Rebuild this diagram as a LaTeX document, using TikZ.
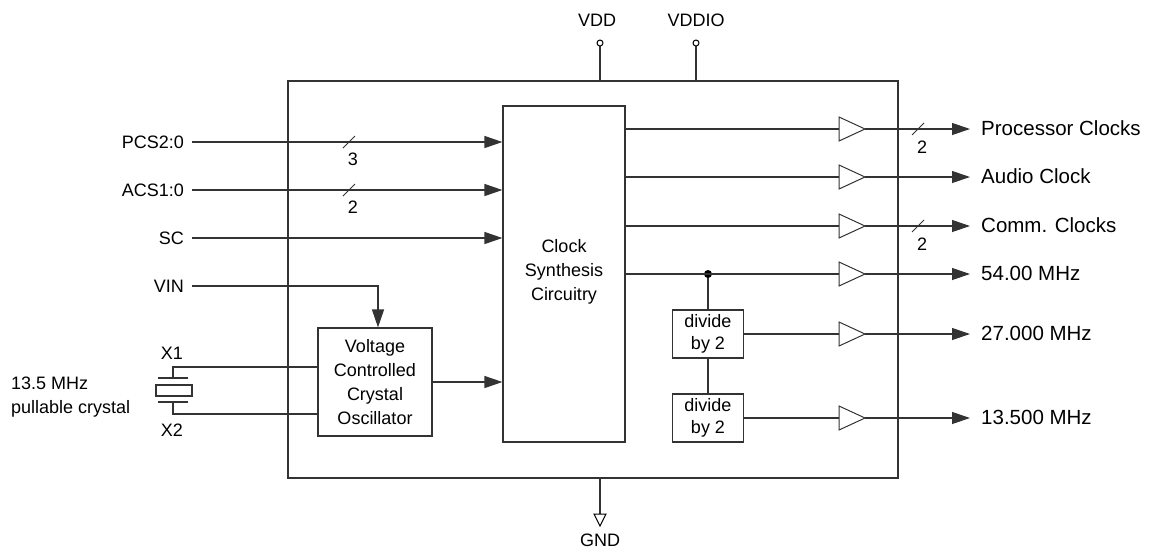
\documentclass[tikz,border=0pt]{standalone}
\usepackage{fontspec}
\setmainfont{Liberation Sans}
\usetikzlibrary{arrows.meta}
\begin{document}
\begin{tikzpicture}[x=1pt,y=-1pt,
  ln/.style={draw=black!80,line width=1.2pt},
  blk/.style={draw=black!80,line width=1.2pt,fill=white},
  txt/.style={font=\fontsize{18}{21}\selectfont,inner sep=0pt},
  rtxt/.style={font=\fontsize{20.5}{23}\selectfont,inner sep=0pt},
  arr/.style={ln,-{Triangle[length=18pt,width=12pt]}},
  buf/.style={draw=black!80,line width=1pt,fill=white}]
\useasboundingbox (0,0) rectangle (1149,550);
% outer box
\draw[ln] (288,81) rectangle (898,478);
% supplies
\coordinate (vddp) at (600,43);
\coordinate (vddiop) at (696,43);
\draw[ln] (600,81) -- (600,46);
\draw[ln] (696,81) -- (696,46);
\draw[line width=1pt] (vddp) circle (3);
\draw[line width=1pt] (vddiop) circle (3);
\node[txt] (vdd) at (597,20) {VDD};
\node[txt] (vddio) at (696,20) {VDDIO};
% gnd
\coordinate (gndt) at (600,514);
\draw[ln] (600,478) -- (gndt);
\draw[line width=1pt] (594,514) -- (606,514) -- (600,526) -- cycle;
\node[txt] (gnd) at (600,540) {GND};
% clock synthesis
\node[blk,minimum width=122pt,minimum height=336pt,inner sep=0pt] (cs) at (564,274) {};
\node[txt,align=center,font=\fontsize{18}{24}\selectfont] (cst) at (564,272) {Clock\\Synthesis\\Circuitry};
% VCXO
\node[blk,minimum width=114pt,minimum height=108pt,inner sep=0pt,align=center,font=\fontsize{18}{24}\selectfont] (vcxo) at (375,382) {Voltage\\Controlled\\Crystal\\Oscillator};
% inputs
\node[txt,anchor=east] (pcs) at (184,142) {PCS2:0};
\node[txt,anchor=east] (acs) at (184,190) {ACS1:0};
\node[txt,anchor=east] (sc) at (184,238) {SC};
\node[txt,anchor=east] (vin) at (184,286) {VIN};
\draw[arr] (192,142) -- (cs.west|-pcs);
\draw[arr] (192,190) -- (cs.west|-acs);
\draw[arr] (192,238) -- (cs.west|-sc);
\draw[arr] (192,286) -| (vcxo.north-|378,0);
\draw[ln,line width=1pt] (343,148) -- (355,136);
\draw[ln,line width=1pt] (343,196) -- (355,184);
\node[txt] (n3) at (353,159) {3};
\node[txt] (n2a) at (353,207) {2};
\draw[arr] (vcxo.east) -- (cs.west|-vcxo.east);
% crystal
\coordinate (x1c) at (173,367);
\coordinate (x2c) at (173,414);
\draw[ln] (vcxo.west|-x1c) -- (x1c) -- (173,378);
\draw[ln] (vcxo.west|-x2c) -- (x2c) -- (173,402);
\draw[ln] (158,378) -- (188,378);
\draw[ln] (158,402) -- (188,402);
\draw[ln] (156,385) rectangle (192,396);
\node[txt] (x1) at (172,353) {X1};
\node[txt] (x2) at (172,430) {X2};
\node[txt,anchor=west] (xt1) at (11,383) {13.5 MHz};
\node[txt,anchor=west] (xt2) at (11,409) {pullable crystal};
% divide boxes
\node[blk,minimum width=71pt,minimum height=48pt,inner sep=0pt,align=center,font=\fontsize{18}{22}\selectfont] (d1) at (708,334) {divide\\by 2};
\node[blk,minimum width=71pt,minimum height=48pt,inner sep=0pt,align=center,font=\fontsize{18}{22}\selectfont] (d2) at (708,418) {divide\\by 2};
\coordinate (dot) at (708,274);
\draw[ln] (dot) -- (d1.north);
\draw[ln] (d1.south) -- (d2.north);
\fill (dot) circle (4);
% outputs
\foreach \y/\name/\lab in {129/o1/Processor Clocks,177/o2/Audio Clock,226/o3/Comm. Clocks,274/o4/54.00 MHz}{
  \draw[ln] (cs.east|-0,\y) -- (839,\y);
  \draw[buf] (839,\y-12) -- (865,\y) -- (839,\y+12) -- cycle;
  \draw[arr] (865,\y) -- (970,\y);
  \node[rtxt,anchor=west] (\name) at (981,\y-1) {\lab};
}
\foreach \y/\name/\lab/\src in {334/o5/27.000 MHz/d1,418/o6/13.500 MHz/d2}{
  \draw[ln] (\src.east) -- (839,\y);
  \draw[buf] (839,\y-12) -- (865,\y) -- (839,\y+12) -- cycle;
  \draw[arr] (865,\y) -- (970,\y);
  \node[rtxt,anchor=west] (\name) at (981,\y-1) {\lab};
}
\draw[ln,line width=1pt] (912,135) -- (924,123);
\draw[ln,line width=1pt] (912,232) -- (924,220);
\node[txt] (n2b) at (922,147) {2};
\node[txt] (n2c) at (922,244) {2};
\end{tikzpicture}
\end{document}
